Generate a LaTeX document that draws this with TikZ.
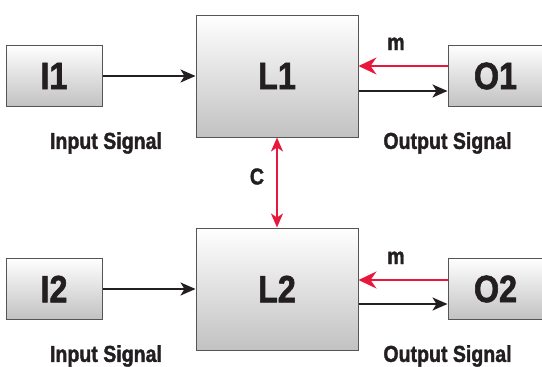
\documentclass[tikz,border=0pt]{standalone}
\usepackage{fontspec}
\setmainfont{Liberation Sans}[FakeStretch=0.85,BoldFeatures={FakeBold=1.6}]
\usetikzlibrary{positioning,arrows.meta}
\definecolor{sigred}{HTML}{E8183C}
\definecolor{boxline}{HTML}{555555}
\definecolor{ink}{HTML}{231F20}
\tikzset{
  block/.style={draw=boxline,line width=1pt,top color=white,bottom color=black!24,
    text=ink,font=\fontsize{38}{38}\selectfont\bfseries,inner sep=0pt},
  small/.style={minimum width=96pt,minimum height=61pt},
  big/.style={minimum width=162pt,minimum height=122pt},
  caption/.style={text=ink,font=\fontsize{23}{23}\selectfont\bfseries,inner sep=0pt},
  sig/.style={line width=2pt,draw=ink,-{Stealth[length=15pt,width=13pt,inset=4pt]}},
  fb/.style={line width=2pt,draw=sigred,-{Stealth[length=18pt,width=17pt,inset=6pt]}},
  cpl/.style={line width=2pt,draw=sigred,
    {Stealth[length=14pt,width=12pt,inset=4pt]}-{Stealth[length=14pt,width=12pt,inset=4pt]}},
}
\begin{document}
\begin{tikzpicture}[x=1pt,y=-1pt]
    \useasboundingbox (0,0) rectangle (542,367);

    \node [block,big] (L1) at (277,76) {L1};
    \node [block,small,left=93pt of L1] (I1) {I1};
    \node [block,small,minimum width=95pt,right=89pt of L1] (O1) {O1};

    \node [block,big,below=90pt of L1] (L2) {L2};
    \node [block,small,left=93pt of L2] (I2) {I2};
    \node [block,small,minimum width=95pt,right=89pt of L2] (O2) {O2};

    \node [caption,below=25pt of I1,xshift=52pt] (in1) {Input Signal};
    \node [caption,below=25pt of O1,xshift=-48pt] (out1) {Output Signal};
    \node [caption,below=25pt of I2,xshift=52pt] (in2) {Input Signal};
    \node [caption,below=25pt of O2,xshift=-48pt] (out2) {Output Signal};

    \draw[sig] (I1) -- (L1);
    \draw[fb] ([yshift=10pt]O1.west) -- node[caption,above=15pt,xshift=-7pt] (m1) {m} ([yshift=10pt]L1.east);
    \draw[sig] ([yshift=-15pt]L1.east) -- ([yshift=-15pt]O1.west);

    \draw[sig] (I2) -- (L2);
    \draw[fb] ([yshift=9pt]O2.west) -- node[caption,above=15pt,xshift=-7pt] (m2) {m} ([yshift=9pt]L2.east);
    \draw[sig] ([yshift=-15pt]L2.east) -- ([yshift=-15pt]O2.west);

    \draw[cpl] (L1) -- node[caption,left=12pt,yshift=6pt] (c) {C} (L2);
\end{tikzpicture}
\end{document}
